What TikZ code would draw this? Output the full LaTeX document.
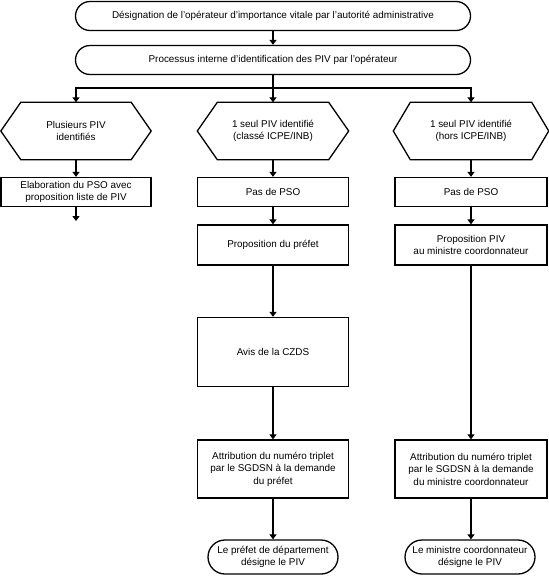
\documentclass[tikz,border=0pt]{standalone}
\usepackage{fontspec}
\setmainfont{Liberation Sans}
\usetikzlibrary{arrows.meta}
\tikzset{
  line/.style={line width=1.3pt, line join=miter},
  arr/.style={line, -{Triangle[length=5pt,width=7pt]}},
  txt/.style={align=center, inner sep=0pt, font=\fontsize{9.9}{12.4}\selectfont},
  box/.style={txt, draw, line, rectangle},
  pill/.style={txt, draw, line, rectangle, rounded corners=#1},
  hexbase/.style={txt, rectangle},
}
\newcommand\hexa[2]{%
  \draw[line] (#1.west) -- ([xshift=#2]#1.north west) -- ([xshift=-#2]#1.north east)
    -- (#1.east) -- ([xshift=-#2]#1.south east) -- ([xshift=#2]#1.south west) -- cycle;}
\begin{document}
\begin{tikzpicture}[x=1pt,y=-1pt]
\useasboundingbox (0,0) rectangle (549,584);
\fill[white] (0,0) rectangle (549,584);

\node[pill=14.5pt, minimum width=395, minimum height=29] (b1) at (273,16)
  {Désignation de l’opérateur d’importance vitale par l’autorité administrative};
\node[pill=14.5pt, minimum width=395, minimum height=29] (b2) at (273,60)
  {Processus interne d’identification des PIV par l’opérateur};
\coordinate (j) at (273,88);

\node[hexbase, minimum width=150, minimum height=57] (h1) at (76,131)
  {Plusieurs PIV\\identifiés};
\node[hexbase, minimum width=151, minimum height=57] (h2) at (273,131)
  {1 seul PIV identifié\\(classé ICPE/INB)};
\node[hexbase, minimum width=155, minimum height=57] (h3) at (471,131)
  {1 seul PIV identifié\\(hors ICPE/INB)};
\hexa{h1}{20}
\hexa{h2}{20}
\hexa{h3}{17}

\node[box, minimum width=150, minimum height=29] (l1) at (76,192)
  {Elaboration du PSO avec\\proposition liste de PIV};
\coordinate (le) at (76,221);

\node[box, minimum width=151, minimum height=29] (m1) at (273,192) {Pas de PSO};
\node[box, minimum width=151, minimum height=40] (m2) at (273,245) {Proposition du préfet};
\node[box, minimum width=151, minimum height=69] (m3) at (273,352) {Avis de la CZDS};
\node[box, minimum width=151, minimum height=58] (m4) at (273,469)
  {Attribution du numéro triplet\\par le SGDSN à la demande\\du préfet};
\node[pill=17pt, minimum width=130, minimum height=34] (m5) at (273,557)
  {Le préfet de département\\désigne le PIV};

\node[box, minimum width=152, minimum height=29] (r1) at (471,192) {Pas de PSO};
\node[box, minimum width=152, minimum height=40] (r2) at (471,245)
  {Proposition PIV\\au ministre coordonnateur};
\node[box, minimum width=152, minimum height=58] (r4) at (471,469)
  {Attribution du numéro triplet\\par le SGDSN à la demande\\du ministre coordonnateur};
\node[pill=17pt, minimum width=130, minimum height=34] (r5) at (470,557)
  {Le ministre coordonnateur\\désigne le PIV};

\draw[arr] (b1) -- (b2);
\draw[arr] (b2) -- (h2);
\draw[arr] (j) -| (h1);
\draw[arr] (j) -| (h3);

\draw[arr] (h1) -- (l1);
\draw[arr] (l1) -- (le);

\draw[arr] (h2) -- (m1);
\draw[arr] (m1) -- (m2);
\draw[arr] (m2) -- (m3);
\draw[arr] (m3) -- (m4);
\draw[arr] (m4) -- (m5);

\draw[arr] (h3) -- (r1);
\draw[arr] (r1) -- (r2);
\draw[arr] (r2) -- (r4);
\draw[arr] (r4.south) -- (r5.north -| r4.south);
\end{tikzpicture}
\end{document}
